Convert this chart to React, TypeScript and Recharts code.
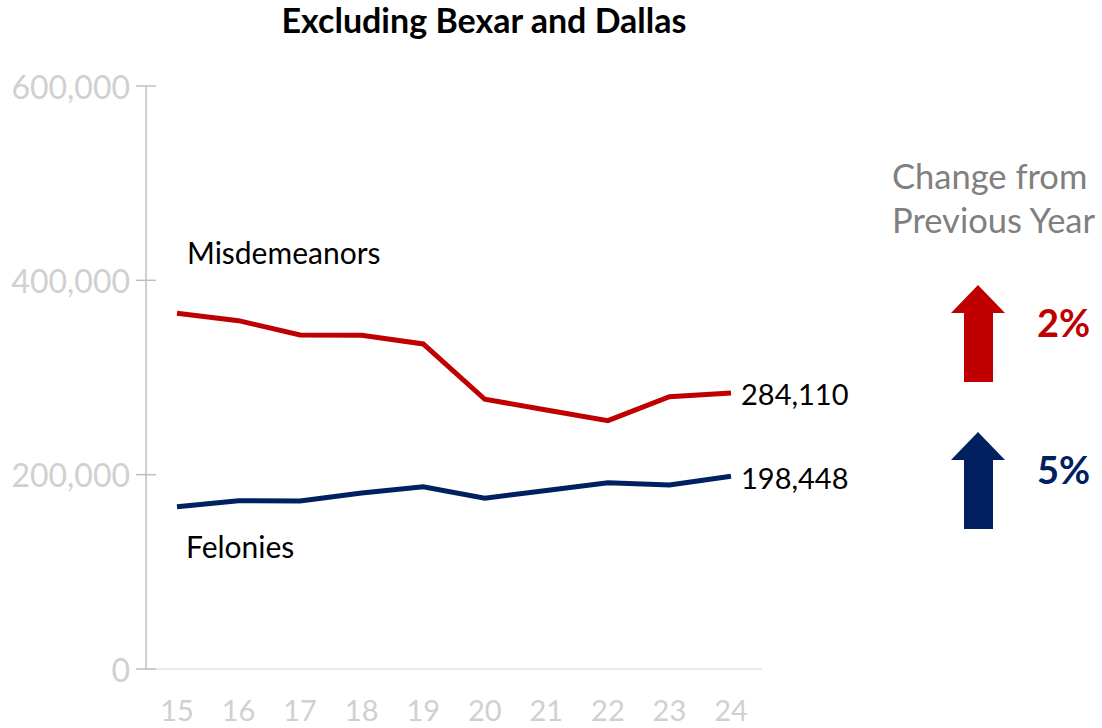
import React from "react";
import { LineChart, Line, XAxis, YAxis, LabelList } from "recharts";

const years = ["15", "16", "17", "18", "19", "20", "21", "22", "23", "24"];
const misdemeanors = [366100, 358500, 343800, 343500, 334500, 277600, 266600, 255600, 280300, 284110];
const felonies = [167000, 173200, 173000, 181100, 187600, 175700, 183700, 191700, 189400, 198448];
const yTicks = [0, 200000, 400000, 600000];

const RED = "#C00000";
const NAVY = "#002060";
const FONT = "Lato, 'Open Sans', sans-serif";

const data = years.map((y, i) => ({
  year: y,
  misdemeanors: misdemeanors[i],
  felonies: felonies[i],
}));

const fmt = (v: number) => v.toLocaleString("en-US");

// y tick: label plus a short mark crossing the axis
function YTick(props: any) {
  const { x, y, payload } = props;
  return (
    <g>
      <line x1={x + 6} x2={x + 26} y1={y} y2={y} stroke="#BFBFBF" strokeWidth={1.5} />
      <text x={x} y={y} textAnchor="end" dominantBaseline="central" fill="#D0D0D0" fontSize={32} fontFamily={FONT}>
        {fmt(payload.value)}
      </text>
    </g>
  );
}

function EndLabel(props: any) {
  const { x, y, index, value } = props;
  if (index !== years.length - 1) return null;
  return (
    <text x={x + 10} y={y + 1} dominantBaseline="central" fill="#000" fontSize={29} fontFamily={FONT}>
      {fmt(value)}
    </text>
  );
}

export default function App() {
  return (
    <div style={{ position: "absolute", left: 0, top: 0, width: 1102, height: 728, background: "#fff", fontFamily: FONT }}>
      <div style={{ position: "absolute", left: 0, width: 968, top: -1, textAlign: "center", fontSize: 34, fontWeight: 700, color: "#000" }}>
        Excluding Bexar and Dallas
      </div>

      <LineChart width={1102} height={728} data={data} margin={{ top: 86, right: 340, bottom: 0, left: 0 }}>
        <XAxis
          dataKey="year"
          padding={{ left: 31, right: 31 }}
          axisLine={{ stroke: "#E3E3E3", strokeWidth: 1.5 }}
          tickLine={false}
          tickMargin={25}
          tick={{ fill: "#D0D0D0", fontSize: 29, fontFamily: FONT }}
          height={59}
        />
        <YAxis
          domain={[0, 600000]}
          ticks={yTicks}
          width={146}
          axisLine={{ stroke: "#BFBFBF", strokeWidth: 1.5 }}
          tickLine={false}
          tickSize={10}
          tickMargin={6}
          tick={<YTick />}
        />
        <Line dataKey="misdemeanors" stroke={RED} strokeWidth={5} dot={false} isAnimationActive={false}>
          <LabelList dataKey="misdemeanors" content={<EndLabel />} />
        </Line>
        <Line dataKey="felonies" stroke={NAVY} strokeWidth={5} dot={false} isAnimationActive={false}>
          <LabelList dataKey="felonies" content={<EndLabel />} />
        </Line>
      </LineChart>

      <div style={{ position: "absolute", left: 187, top: 234, fontSize: 30, color: "#000" }}>Misdemeanors</div>
      <div style={{ position: "absolute", left: 186, top: 528, fontSize: 30, color: "#000" }}>Felonies</div>

      <div style={{ position: "absolute", left: 892, top: 154, fontSize: 34.5, color: "#808080", lineHeight: "44px" }}>
        Change from
        <br />
        Previous Year
      </div>

      <svg style={{ position: "absolute", left: 0, top: 0 }} width={1102} height={728}>
        <polygon points="978,285 951,313 964,313 964,382 993,382 993,313 1005,313" fill={RED} />
        <polygon points="978,432 951,460 964,460 964,529 993,529 993,460 1005,460" fill={NAVY} />
      </svg>
      <div style={{ position: "absolute", left: 1037, top: 299, fontSize: 38, fontWeight: 700, color: RED }}>2%</div>
      <div style={{ position: "absolute", left: 1037, top: 446, fontSize: 38, fontWeight: 700, color: NAVY }}>5%</div>
    </div>
  );
}
